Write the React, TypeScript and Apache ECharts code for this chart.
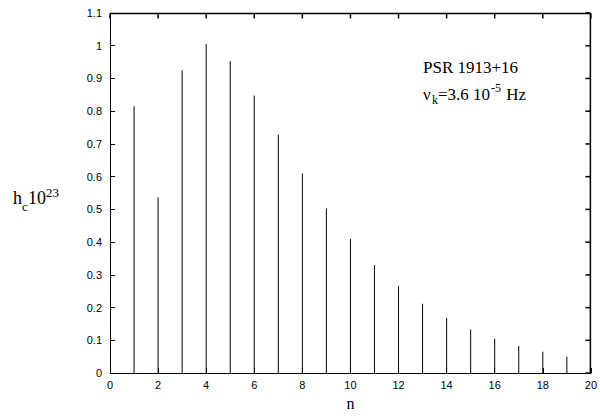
import React, { useEffect, useRef } from "react";
import * as echarts from "echarts";

const harmonics = [1, 2, 3, 4, 5, 6, 7, 8, 9, 10, 11, 12, 13, 14, 15, 16, 17, 18, 19];
const amplitudes = [0.815, 0.537, 0.925, 1.005, 0.953, 0.848, 0.728, 0.61, 0.503, 0.41, 0.33, 0.265, 0.212, 0.168, 0.133, 0.105, 0.083, 0.065, 0.05];
const xTickValues = [0, 2, 4, 6, 8, 10, 12, 14, 16, 18, 20];
const yTickValues = [0, 0.1, 0.2, 0.3, 0.4, 0.5, 0.6, 0.7, 0.8, 0.9, 1, 1.1];
const xTicks = { min: 0, max: 20, interval: 2 };
const yTicks = { min: 0, max: 1.1, interval: 0.1 };

const SANS = "Liberation Sans, Arial, sans-serif";
const SERIF = "Liberation Serif, Times New Roman, serif";

export default function App() {
  const ref = useRef<HTMLDivElement>(null);
  useEffect(() => {
    if (!ref.current) return;
    const chart = echarts.init(ref.current, null, { renderer: "svg" });
    const mkLine = () => ({ show: true, onZero: false, lineStyle: { color: "#000", width: 1 } });
    const mkTick = () => ({ show: true, inside: true, length: 5, lineStyle: { color: "#000", width: 1 } });
    const label = { color: "#000", fontSize: 11, fontFamily: SANS };
    const stroke = { stroke: "#000", lineWidth: 1.5 };
    chart.setOption({
      animation: false,
      backgroundColor: "#fff",
      grid: { left: 110, right: 6, top: 13, bottom: 30, containLabel: false },
      xAxis: [
        {
          type: "value", position: "bottom", ...xTicks,
          axisLine: mkLine(), axisTick: mkTick(), splitLine: { show: false },
          axisLabel: { ...label, margin: 6 },
          name: "n", nameLocation: "middle", nameGap: 21,
          nameTextStyle: { color: "#000", fontSize: 16, fontFamily: SERIF },
        },
      ],
      yAxis: [
        {
          type: "value", position: "left", ...yTicks,
          axisLine: mkLine(), axisTick: mkTick(), splitLine: { show: false },
          axisLabel: { ...label, margin: 8, formatter: (v: number) => String(Math.round(v * 10) / 10) },
        },
      ],
      series: [
        {
          type: "bar",
          barWidth: 1,
          itemStyle: { color: "#000" },
          data: harmonics.map((n, i) => [n, amplitudes[i]]),
        },
        {
          type: "custom",
          silent: true,
          clip: false,
          data: [[0, 0]],
          renderItem: (_params: any, api: any) => {
            const x0 = xTicks.min, x1 = xTicks.max, y0 = yTicks.min, y1 = yTicks.max;
            const tl = api.coord([x0, y1]);
            const tr = api.coord([x1, y1]);
            const br = api.coord([x1, y0]);
            const top = tl[1] + 0.5;
            const right = tr[0] - 0.5;
            const children: any[] = [
              { type: "line", shape: { x1: tl[0], y1: top, x2: tr[0], y2: top }, style: stroke },
              { type: "line", shape: { x1: right, y1: tr[1], x2: right, y2: br[1] }, style: stroke },
            ];
            xTickValues.forEach((v) => {
              const p = api.coord([v, y1]);
              children.push({ type: "line", shape: { x1: p[0], y1: top, x2: p[0], y2: top + 5 }, style: stroke });
            });
            yTickValues.forEach((v) => {
              const p = api.coord([x1, v]);
              children.push({ type: "line", shape: { x1: right, y1: p[1], x2: right - 5, y2: p[1] }, style: stroke });
            });
            return { type: "group", children };
          },
        },
      ],
      graphic: [
        { type: "text", x: 13, y: 198, style: { text: "h", fontSize: 18, fontFamily: SERIF, fill: "#000", verticalAlign: "middle" } },
        { type: "text", x: 22, y: 206, style: { text: "c", fontSize: 13, fontFamily: SERIF, fill: "#000", verticalAlign: "middle" } },
        { type: "text", x: 28, y: 198, style: { text: "10", fontSize: 18, fontFamily: SERIF, fill: "#000", verticalAlign: "middle" } },
        { type: "text", x: 46, y: 192, style: { text: "23", fontSize: 13, fontFamily: SERIF, fill: "#000", verticalAlign: "middle" } },

        { type: "text", x: 423, y: 67, style: { text: "PSR 1913+16", fontSize: 17, fontFamily: SERIF, fill: "#000", verticalAlign: "middle" } },
        { type: "text", x: 423, y: 94, style: { text: "\u03bd", fontSize: 17, fontFamily: SERIF, fill: "#000", verticalAlign: "middle" } },
        { type: "text", x: 432, y: 100, style: { text: "k", fontSize: 12, fontFamily: SERIF, fill: "#000", verticalAlign: "middle" } },
        { type: "text", x: 438, y: 94, style: { text: "=3.6 10", fontSize: 17, fontFamily: SERIF, fill: "#000", verticalAlign: "middle" } },
        { type: "text", x: 491, y: 88, style: { text: "-5", fontSize: 12, fontFamily: SERIF, fill: "#000", verticalAlign: "middle" } },
        { type: "text", x: 502, y: 94, style: { text: " Hz", fontSize: 17, fontFamily: SERIF, fill: "#000", verticalAlign: "middle" } },
      ],
    });
    return () => chart.dispose();
  }, []);
  return <div ref={ref} style={{ width: 600, height: 416, position: "absolute", left: 0, top: 0 }} />;
}
